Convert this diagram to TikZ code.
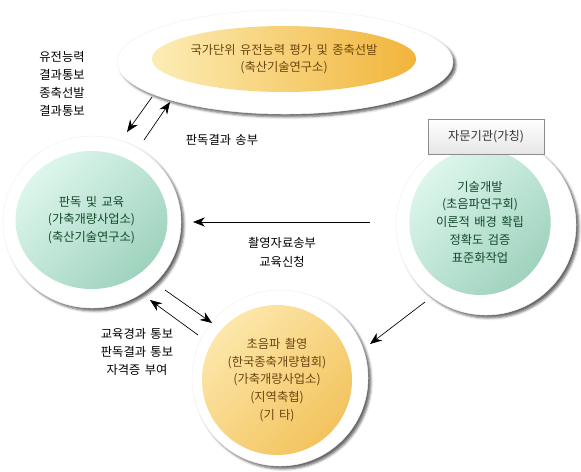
\documentclass[tikz,border=0pt]{standalone}
\usepackage{fontspec}
\setmainfont[WordSpace=1.6]{Noto Sans CJK KR}
\usetikzlibrary{shapes.geometric,shadows.blur,arrows.meta}
\definecolor{greenlite}{HTML}{DDF6EC}
\definecolor{greendark}{HTML}{9FD3BE}
\definecolor{goldlite}{HTML}{FCEDB5}
\definecolor{golddark}{HTML}{F1B43A}
\definecolor{balllite}{HTML}{FCE7AA}
\definecolor{balldark}{HTML}{F3C35E}
\definecolor{greentext}{HTML}{144A2C}
\definecolor{browntext}{HTML}{6B4510}
\begin{document}
\begin{tikzpicture}[x=0.75pt,y=-0.75pt,
    every node/.style={font=\fontsize{9.2}{13.3}\selectfont, align=center, inner sep=0pt},
    ring/.style={ellipse, fill=white, draw=black!5,
      blur shadow={shadow xshift=2.2pt, shadow yshift=-2.2pt, shadow blur radius=1.8pt, shadow opacity=60}},
    greenball/.style={ellipse, top color=greenlite, bottom color=greendark, shading angle=45, text=greentext},
    goldball/.style={ellipse, top color=balllite, bottom color=balldark, shading angle=45, text=browntext},
    arr/.style={-{Stealth[length=9pt,width=7pt]}, line width=0.5pt}]
    \useasboundingbox (0,0) rectangle (581,471);
    % national evaluation
    \node [ring, minimum width=252pt, minimum height=78pt] (natring) at (285,62) {};
    \node [ellipse, left color=goldlite, right color=golddark, text=browntext,
      minimum width=196.5pt, minimum height=49.5pt] (natball) at (284,59)
      {국가단위 유전능력 평가 및 종축선발\\(축산기술연구소)};
    % reading and education
    \node [ring, minimum width=133.5pt, minimum height=129pt] (readring) at (92,222) {};
    \node [greenball, minimum width=114pt, minimum height=103.5pt] (readball) at (91.5,220)
      {판독 및 교육\\(가축개량사업소)\\(축산기술연구소)};
    % technology development
    \node [ring, minimum width=135pt, minimum height=135pt] (techring) at (486,225) {};
    \node [greenball, minimum width=106pt, minimum height=109.5pt] (techball) at (480,222)
      {기술개발\\(초음파연구회)\\이론적 배경 확립\\정확도 검증\\표준화작업};
    \node [draw=black!45, top color=white, bottom color=black!10, text=black!80,
      minimum width=87pt, minimum height=26pt] (advisory) at (486,137) {자문기관(가칭)};
    % ultrasound scanning
    \node [ring, minimum width=132pt, minimum height=132pt] (scanring) at (280,378) {};
    \node [goldball, minimum width=112.5pt, minimum height=112.5pt] (scanball) at (277,380)
      {초음파 촬영\\(한국종축개량협회)\\(가축개량사업소)\\(지역축협)\\(기 타)};
    % arrow ends
    \coordinate (natdown) at (152,97);
    \coordinate (readup) at (127,132);
    \coordinate (readtop) at (144,140);
    \coordinate (natup) at (170,102);
    \coordinate (techleft) at (370,222);
    \coordinate (readright) at (193,222);
    \coordinate (readlow) at (165,290);
    \coordinate (scanin) at (212,323);
    \coordinate (scanout) at (198,335);
    \coordinate (readin) at (150,300);
    \coordinate (techlow) at (425,302);
    \coordinate (scanright) at (370,344);
    \draw [arr] (natdown) -- (readup);
    \draw [arr] (readtop) -- (natup);
    \draw [arr] (techleft) -- (readright);
    \draw [arr] (readlow) -- (scanin);
    \draw [arr] (scanout) -- (readin);
    \draw [arr] (techlow) -- (scanright);
    % labels
    \node (genlabel) at (62,84) {유전능력\\결과통보\\종축선발\\결과통보};
    \node (sendlabel) at (222,140) {판독결과 송부};
    \node (datalabel) at (282,252) {촬영자료송부\\[1pt]교육신청};
    \node (edulabel) at (137,352) {교육경과 통보\\판독결과 통보\\자격증 부여};
\end{tikzpicture}
\end{document}
